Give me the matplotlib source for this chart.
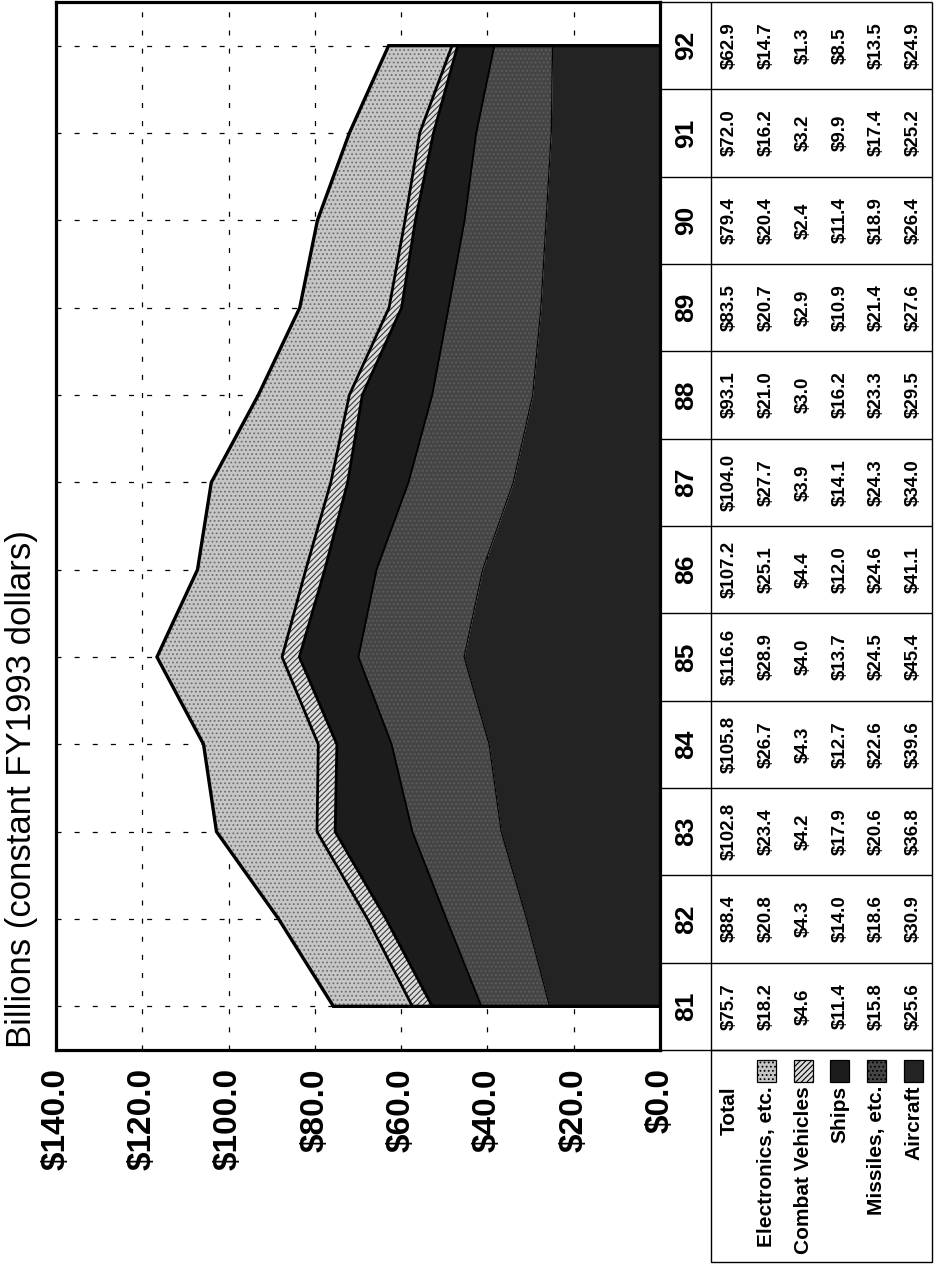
"""
Procurement funding by category, FY81-FY92, drawn as a stacked area chart
with its data table, the whole page laid out sideways (text reads upward).
"""
import matplotlib.pyplot as plt
from matplotlib.patches import Rectangle

plt.rcParams["font.family"] = ["Liberation Sans", "DejaVu Sans"]
plt.rcParams["hatch.linewidth"] = 0.8

YEARS = [81, 82, 83, 84, 85, 86, 87, 88, 89, 90, 91, 92]
TOTAL = [75.7, 88.4, 102.8, 105.8, 116.6, 107.2, 104.0, 93.1, 83.5, 79.4, 72.0, 62.9]
ELECTRONICS = [18.2, 20.8, 23.4, 26.7, 28.9, 25.1, 27.7, 21.0, 20.7, 20.4, 16.2, 14.7]
COMBAT_VEHICLES = [4.6, 4.3, 4.2, 4.3, 4.0, 4.4, 3.9, 3.0, 2.9, 2.4, 3.2, 1.3]
SHIPS = [11.4, 14.0, 17.9, 12.7, 13.7, 12.0, 14.1, 16.2, 10.9, 11.4, 9.9, 8.5]
MISSILES = [15.8, 18.6, 20.6, 22.6, 24.5, 24.6, 24.3, 23.3, 21.4, 18.9, 17.4, 13.5]
AIRCRAFT = [25.6, 30.9, 36.8, 39.6, 45.4, 41.1, 34.0, 29.5, 27.6, 26.4, 25.2, 24.9]

ROW_LABELS = ["Total", "Electronics, etc.", "Combat Vehicles", "Ships",
              "Missiles, etc.", "Aircraft"]
VALUE_TICKS = [0, 20, 40, 60, 80, 100, 120, 140]
TITLE = "Billions (constant FY1993 dollars)"

W, H = 934, 1264

STYLES = {
    "Electronics, etc.": dict(facecolor="#c6c6c6", hatch="....", edgecolor="#6e6e6e"),
    "Combat Vehicles": dict(facecolor="#dcdcdc", hatch="//////", edgecolor="#3a3a3a"),
    "Ships": dict(facecolor="#1c1c1c", hatch=None, edgecolor="#1c1c1c"),
    "Missiles, etc.": dict(facecolor="#454545", hatch="....", edgecolor="#5e5e5e"),
    "Aircraft": dict(facecolor="#232323", hatch=None, edgecolor="#232323"),
}


def frac(x0, y0, x1, y1):
    """Pixel box (top-left origin) -> figure fraction rect."""
    return [x0 / W, 1 - y1 / H, (x1 - x0) / W, (y1 - y0) / H]


def draw_areas(ax):
    ax.set_xlim(140, 0)
    ax.set_ylim(YEARS[0] - 0.5, YEARS[-1] + 0.5)
    ax.set_axisbelow(True)
    ax.grid(True, color="black", lw=0.9, linestyle=(0, (4, 10.5)))

    # stacked from the $0 side outward; outer layer runs up to the stated totals
    layers = [("Aircraft", AIRCRAFT, 0.9), ("Missiles, etc.", MISSILES, 1.3),
              ("Ships", SHIPS, 2.0), ("Combat Vehicles", COMBAT_VEHICLES, 2.0)]
    base = [0.0] * len(YEARS)
    for name, vals, edge_lw in layers:
        top = [b + v for b, v in zip(base, vals)]
        ax.fill_betweenx(YEARS, base, top, lw=0, **STYLES[name])
        ax.plot(top, YEARS, color="black", lw=edge_lw)
        base = top
    ax.fill_betweenx(YEARS, base, TOTAL, lw=0, **STYLES["Electronics, etc."])

    outline_x = [0] + TOTAL + [0]
    outline_y = [YEARS[0]] + YEARS + [YEARS[-1]]
    ax.plot(outline_x, outline_y, color="black", lw=2.4, solid_joinstyle="miter")

    ax.set_xticks(VALUE_TICKS)
    ax.set_xticklabels([f"${v:.1f}" for v in VALUE_TICKS], rotation=90,
                       fontsize=24, fontweight="bold")
    ax.tick_params(axis="x", length=0, pad=13)
    ax.set_yticks(YEARS)
    ax.set_yticklabels([])
    ax.tick_params(axis="y", length=0)
    for sp in ax.spines.values():
        sp.set_linewidth(2.3)


def draw_table(fig):
    x_left, x_split, x_right = 660, 711, 932
    col_w = (x_right - x_split) / len(ROW_LABELS)
    tax = fig.add_axes(frac(x_left, 2, x_right, 1050))
    tax.set_xlim(x_left, x_right)
    tax.set_ylim(YEARS[0] - 0.5, YEARS[-1] + 0.5)
    tax.axis("off")

    edges = [y - 0.5 for y in YEARS] + [YEARS[-1] + 0.5]
    tax.hlines(edges, x_left, x_right, color="black", lw=1.0, clip_on=False)
    tax.vlines([x_split, x_right], edges[0], edges[-1], color="black", lw=1.0,
               clip_on=False)

    rows = [TOTAL, ELECTRONICS, COMBAT_VEHICLES, SHIPS, MISSILES, AIRCRAFT]
    for i, yr in enumerate(YEARS):
        tax.text((x_left + x_split) / 2 + 1, yr, str(yr), rotation=90,
                 ha="center", va="center", fontsize=19, fontweight="bold")
        for r, vals in enumerate(rows):
            xc = x_split + (r + 0.5) * col_w
            tax.text(xc, yr, f"${vals[i]:.1f}", rotation=90, ha="center",
                     va="center", fontsize=13.5, fontweight="bold")

    # row label box under the value columns
    lax = fig.add_axes(frac(x_split, 1050, x_right, 1262))
    lax.set_xlim(x_split, x_right)
    lax.set_ylim(1262, 1050)
    lax.axis("off")
    lax.add_patch(Rectangle((x_split, 1050), x_right - x_split, 212, fill=False,
                            edgecolor="black", lw=1.0, clip_on=False))
    for r, label in enumerate(ROW_LABELS):
        xc = x_split + (r + 0.5) * col_w
        if label in STYLES:
            lax.add_patch(Rectangle((xc - 9.5, 1060), 19, 22, lw=0.9,
                                    facecolor=STYLES[label]["facecolor"],
                                    hatch=STYLES[label]["hatch"],
                                    edgecolor="black"))
        lax.text(xc, 1086, label, rotation=90, ha="center", va="top",
                 fontsize=15, fontweight="bold")


def main():
    fig = plt.figure(figsize=(W / 100, H / 100), dpi=100)
    ax = fig.add_axes(frac(56, 2, 660, 1050))
    draw_areas(ax)
    draw_table(fig)
    fig.text(22 / W, 1 - 1048 / H, TITLE, rotation=90, ha="center", va="bottom",
             fontsize=25)
    fig.savefig("out.png", dpi=100, facecolor="white")
    plt.close(fig)


if __name__ == "__main__":
    main()
